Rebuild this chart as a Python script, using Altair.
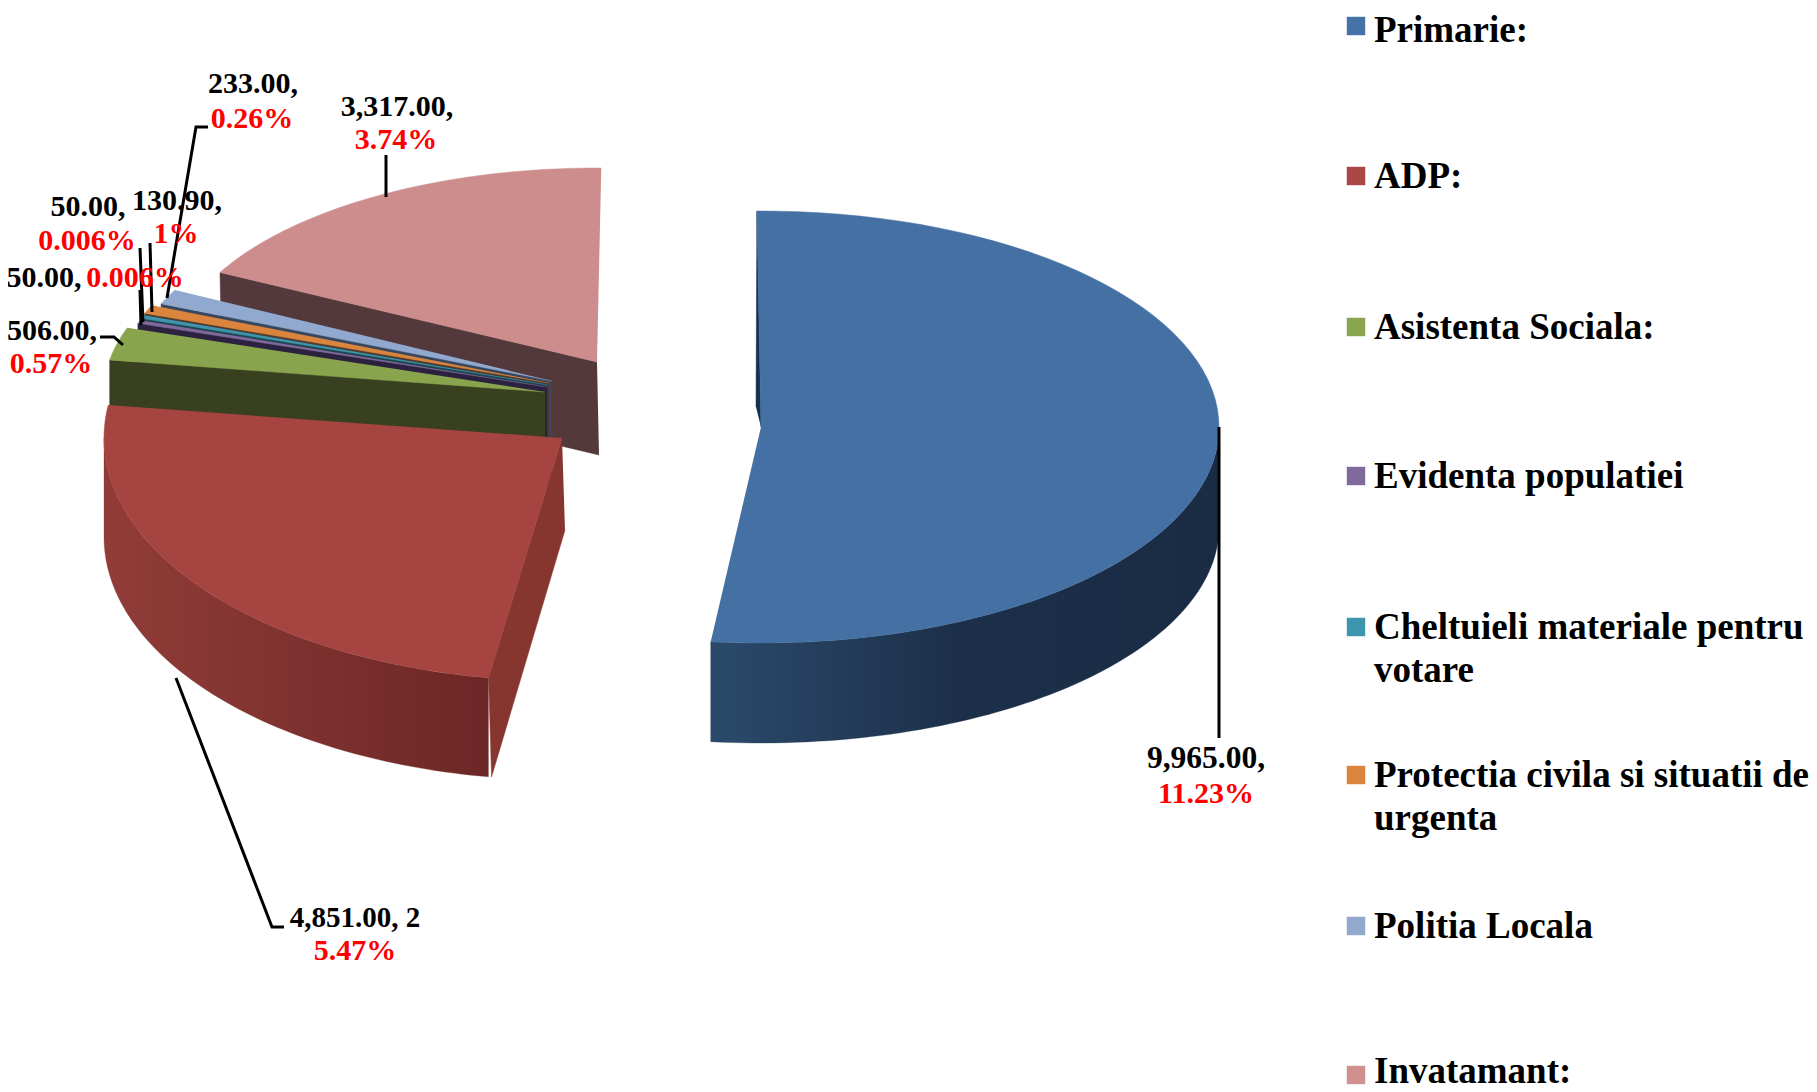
import altair as alt
import pandas as pd

# ---- chart values ----
categories = ["Primarie:", "ADP:", "Asistenta Sociala:", "Evidenta populatiei",
              "Cheltuieli materiale pentru votare", "Protectia civila si situatii de urgenta",
              "Politia Locala", "Invatamant:"]
values = [9965.00, 4851.00, 506.00, 50.00, 50.00, 130.90, 233.00, 3317.00]

value_labels = ["9,965.00,", "4,851.00, 2", "506.00,", "50.00,", "50.00,", "130.90,", "233.00,", "3,317.00,"]
percent_labels = ["11.23%", "5.47%", "0.57%", "0.006%", "0.006%", "1%", "0.26%", "3.74%"]

legend_lines = [["Primarie:"], ["ADP:"], ["Asistenta Sociala:"], ["Evidenta populatiei"],
                ["Cheltuieli materiale pentru", "votare"], ["Protectia civila si situatii de", "urgenta"],
                ["Politia Locala"], ["Invatamant:"]]

# ---- styles and layout (image pixels) ----
top_colors = ["#4470a4", "#a54441", "#88a54d", "#80699b", "#3d96ae", "#db843d", "#92a9cf", "#cd8d8d"]
cut_colors = ["#17304f", "#87352f", "#38401f", "#2d2140", "#1f4450", "#4a3a30", "#37475e", "#53393b"]
swatch_colors = ["#4572a7", "#aa4643", "#89a54e", "#80699b", "#3d96ae", "#db843d", "#92a8cd", "#d09090"]
# apex x, apex y, radius x, radius y, depth, cut-foot x shift, cut depth at apex, edge depth
pie_layout = [
    (761, 427, 458, 216, 100, -5, -20, 0),
    (562, 438, 458, 243, 99, 3, 92, 99),
    (545, 392, 441, 200, 100, 0, 100, 100),
    (547, 387, 432, 198, 100, 0, 100, 100),
    (548, 385, 432, 198, 100, 0, 100, 100),
    (549, 383, 432, 198, 100, 0, 100, 100),
    (552, 381, 425, 197, 100, 0, 100, 100),
    (597, 362, 425, 194, 93, 2, 93, 93),
]
edge_trim = {0: (-0.009, -0.026), 1: (0.025, -0.025), 7: (0.0, 0.01)}
draw_order = [7, 6, 5, 4, 3, 2, 1, 0]
wall_stops = {
    0: ["#2b4a6b", "#1c2f49", "#1a2c44"],
    1: ["#923c38", "#7e322f", "#6b2726"],
}
value_xy = [(1206, 759), (355, 918), (52, 331), (44, 278), (88, 207), (177, 201), (253, 84), (397, 107)]
value_sizes = [31.5, 29, 30, 30, 30, 30, 30, 30]
percent_xy = [(1206, 794), (355, 951), (51, 364), (135, 278), (87, 241), (176, 234), (252, 119), (396, 140)]
swatch_y = [26, 176, 327, 476, 627, 775, 926, 1075]
legend_y = [31, 177, 328, 477, 628, 776, 927, 1072]
legend_line_step = 43
leaders = [
    [(1219, 427), (1219, 738)],
    [(176, 678), (272, 927), (284, 927)],
    [(100, 337), (114, 337), (123, 345)],
    [(140, 290), (141, 325)],
    [(140, 248), (143, 322)],
    [(150, 243), (152, 312)],
    [(208, 127), (196, 127), (167, 298)],
    [(386, 155), (386, 197)],
]

W, H = 1801, 1084
SEG = 72
xs = alt.X("px:Q", scale=alt.Scale(domain=[8, 8 + W], nice=False, zero=False), axis=None)
ys = alt.Y("py:Q", scale=alt.Scale(domain=[8, 8 + H], nice=False, zero=False, reverse=True), axis=None)

base_table = pd.DataFrame({"category": categories, "value": values, "k": list(range(len(values)))})


def slice_base(k):
    t0, t1 = edge_trim.get(k, (0.0, 0.0))
    return (alt.Chart(base_table)
            .transform_window(cum="sum(value)", sort=[alt.SortField("k")], frame=[None, 0])
            .transform_joinaggregate(total="sum(value)")
            .transform_calculate(a0=f"2*PI*(datum.cum-datum.value)/datum.total+({t0})",
                                 a1=f"2*PI*datum.cum/datum.total+({t1})")
            .transform_filter(f"datum.k=={k}"))


layers = []
for k in draw_order:
    ox, oy, rx, ry, depth, foot, cut_depth, edge_depth = pie_layout[k]

    # flat cut face of the slice (starting edge)
    cut = (slice_base(k)
           .transform_calculate(seq="[0,1,2,3]")
           .transform_flatten(["seq"], as_=["i"])
           .transform_calculate(
               ex=f"{ox}+{rx}*sin(datum.a0)", ey=f"{oy}-{ry}*cos(datum.a0)")
           .transform_calculate(
               px=f"datum.i==0?{ox}:datum.i==1?datum.ex:datum.i==2?datum.ex+{foot if edge_depth else 0}:{ox}+{foot}",
               py=f"datum.i==0?{oy}:datum.i==1?datum.ey:datum.i==2?datum.ey+{edge_depth}:{oy}+({cut_depth})")
           .mark_line(fill=cut_colors[k], stroke=cut_colors[k], strokeWidth=0.5, interpolate="linear")
           .encode(x=xs, y=ys, order=alt.Order("i:Q")))
    layers.append(cut)

    # rounded outer wall, only where it faces the viewer
    if k in wall_stops:
        stops = wall_stops[k]
        grad = alt.Gradient(gradient="linear", x1=0, x2=1, y1=0, y2=0,
                            stops=[alt.GradientStop(offset=0, color=stops[0]),
                                   alt.GradientStop(offset=0.5, color=stops[1]),
                                   alt.GradientStop(offset=1, color=stops[2])])
        wall = (slice_base(k)
                .transform_calculate(seq=f"sequence(0,{2 * SEG + 2})")
                .transform_flatten(["seq"], as_=["i"])
                .transform_calculate(lo="max(datum.a0,PI/2)", hi="min(datum.a1,3*PI/2)")
                .transform_calculate(j=f"datum.i<={SEG}?datum.i:{2 * SEG + 1}-datum.i")
                .transform_calculate(ang=f"datum.lo+(datum.hi-datum.lo)*datum.j/{SEG}")
                .transform_calculate(px=f"{ox}+{rx}*sin(datum.ang)",
                                     py=f"{oy}-{ry}*cos(datum.ang)+(datum.i<={SEG}?0:{depth})")
                .mark_line(fill=grad, stroke=stops[1], strokeWidth=0.3, interpolate="linear")
                .encode(x=xs, y=ys, order=alt.Order("i:Q")))
        layers.append(wall)

    # top surface
    top = (slice_base(k)
           .transform_calculate(seq=f"sequence(0,{SEG + 2})")
           .transform_flatten(["seq"], as_=["i"])
           .transform_calculate(ang=f"datum.a0+(datum.a1-datum.a0)*(datum.i-1)/{SEG}")
           .transform_calculate(px=f"datum.i==0?{ox}:{ox}+{rx}*sin(datum.ang)",
                                py=f"datum.i==0?{oy}:{oy}-{ry}*cos(datum.ang)")
           .mark_line(fill=top_colors[k], stroke=top_colors[k], strokeWidth=0.5, interpolate="linear")
           .encode(x=xs, y=ys, order=alt.Order("i:Q")))
    layers.append(top)

# leader lines
leader_rows = [{"id": n, "i": i, "px": p[0], "py": p[1]} for n, line in enumerate(leaders) for i, p in enumerate(line)]
layers.append(alt.Chart(pd.DataFrame(leader_rows))
              .mark_line(color="black", strokeWidth=3, interpolate="linear")
              .encode(x=xs, y=ys, detail="id:N", order=alt.Order("i:Q")))

FONT = "Liberation Serif"
# data labels
label_table = pd.DataFrame({"px": [p[0] for p in value_xy], "py": [p[1] for p in value_xy],
                            "t": value_labels, "s": value_sizes})
pct_table = pd.DataFrame({"px": [p[0] for p in percent_xy], "py": [p[1] for p in percent_xy], "t": percent_labels})
layers.append(alt.Chart(label_table)
              .mark_text(font=FONT, fontWeight="bold", color="black", align="center", baseline="middle")
              .encode(x=xs, y=ys, text="t:N", size=alt.Size("s:Q", scale=None, legend=None)))
layers.append(alt.Chart(pct_table)
              .mark_text(font=FONT, fontWeight="bold", fontSize=30, color="#ff0000", align="center", baseline="middle")
              .encode(x=xs, y=ys, text="t:N"))

# legend
swatch_table = pd.DataFrame({"px": [1356] * len(categories), "py": swatch_y, "c": swatch_colors})
layers.append(alt.Chart(swatch_table)
              .mark_square(size=340, opacity=1)
              .encode(x=xs, y=ys, color=alt.Color("c:N", scale=None)))
legend_rows = [{"px": 1374, "py": legend_y[n] + i * legend_line_step, "t": t}
               for n, lines in enumerate(legend_lines) for i, t in enumerate(lines)]
layers.append(alt.Chart(pd.DataFrame(legend_rows))
              .mark_text(font=FONT, fontWeight="bold", fontSize=37, color="black", align="left", baseline="middle")
              .encode(x=xs, y=ys, text="t:N"))

chart = (alt.layer(*layers)
         .properties(width=W, height=H, padding=0, autosize=alt.AutoSizeParams(type="none"), background="white")
         .configure_view(stroke=None))
chart.save("out.html", embed_options={"renderer": "svg", "actions": False})
